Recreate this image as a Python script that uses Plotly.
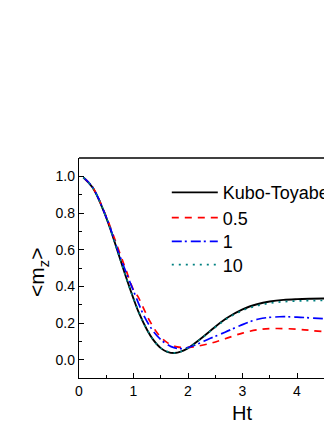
import plotly.graph_objects as go

# Kubo-Toyabe (black solid)
kt_t = [0.08, 0.25, 0.5, 0.75, 0.87, 1.0, 1.1, 1.25, 1.36, 1.5, 1.62, 1.75, 1.88, 2.0, 2.12, 2.25, 2.4, 2.5, 2.68, 2.75, 3.0, 3.13, 3.25, 3.5, 3.75, 4.0, 4.25, 4.65]
kt_v = [0.994, 0.939, 0.775, 0.553, 0.444, 0.333, 0.255, 0.162, 0.109, 0.063, 0.043, 0.036, 0.045, 0.063, 0.088, 0.118, 0.155, 0.180, 0.220, 0.234, 0.274, 0.290, 0.301, 0.317, 0.326, 0.330, 0.332, 0.334]

# 0.5 (red dashed)
r_t = [0.08, 0.25, 0.5, 0.75, 0.87, 1.0, 1.08, 1.2, 1.3, 1.45, 1.62, 1.8, 1.95, 2.1, 2.4, 2.68, 3.0, 3.3, 3.6, 4.0, 4.3, 4.65]
r_v = [0.994, 0.940, 0.780, 0.580, 0.483, 0.380, 0.345, 0.270, 0.210, 0.140, 0.093, 0.070, 0.066, 0.070, 0.088, 0.114, 0.145, 0.164, 0.170, 0.166, 0.158, 0.148]

# 1 (blue dash-dot)
b_t = [0.08, 0.25, 0.5, 0.75, 1.0, 1.2, 1.36, 1.5, 1.69, 1.85, 2.0, 2.2, 2.4, 2.68, 2.95, 3.3, 3.68, 4.0, 4.3, 4.65]
b_v = [0.994, 0.940, 0.777, 0.565, 0.375, 0.235, 0.156, 0.110, 0.071, 0.060, 0.066, 0.088, 0.115, 0.150, 0.185, 0.222, 0.234, 0.232, 0.227, 0.220]

# 10 (teal dotted)
c_t = [0.08, 0.25, 0.5, 0.75, 1.0, 1.25, 1.5, 1.75, 2.0, 2.25, 2.5, 2.75, 3.0, 3.25, 3.5, 3.75, 4.0, 4.25, 4.65]
c_v = [0.994, 0.939, 0.775, 0.553, 0.333, 0.162, 0.063, 0.037, 0.063, 0.117, 0.177, 0.230, 0.268, 0.293, 0.308, 0.316, 0.320, 0.322, 0.323]

names = ["Kubo-Toyabe", "0.5", "1", "10"]
x_ticks = [0, 1, 2, 3, 4]
y_ticks = [0.0, 0.2, 0.4, 0.6, 0.8, 1.0]

FONT = "Liberation Sans, Arial, sans-serif"

fig = go.Figure()
fig.add_trace(go.Scatter(x=kt_t, y=kt_v, mode="lines", name=names[0], legend="legend",
                         line=dict(color="black", width=1.9, shape="spline")))
fig.add_trace(go.Scatter(x=r_t, y=r_v, mode="lines", name=names[1], legend="legend2",
                         line=dict(color="#FF0000", width=1.7, dash="7px,6px", shape="spline")))
fig.add_trace(go.Scatter(x=b_t, y=b_v, mode="lines", name=names[2], legend="legend3",
                         line=dict(color="#0000FF", width=1.7, dash="10px,3px,2px,4px", shape="spline")))
fig.add_trace(go.Scatter(x=c_t, y=c_v, mode="lines", name=names[3], legend="legend4",
                         line=dict(color="#008080", width=1.7, dash="2px,5px", shape="spline")))

leg_x = 0.347
leg_common = dict(x=leg_x, xanchor="left", yanchor="middle", bgcolor="rgba(0,0,0,0)",
                  font=dict(size=18, family=FONT), itemwidth=46)

fig.update_layout(
    width=324, height=422,
    margin=dict(l=71, r=0, t=150, b=52, autoexpand=False),
    paper_bgcolor="white", plot_bgcolor="white",
    font=dict(family=FONT, color="black"),
    showlegend=True,
    legend=dict(y=0.8423, **leg_common),
    legend2=dict(y=0.7273, **leg_common),
    legend3=dict(y=0.6195, **leg_common),
    legend4=dict(y=0.5136, **leg_common),
    xaxis=dict(range=[0, 4.642], showgrid=False, zeroline=False, showline=True, linecolor="black", linewidth=1.3,
               ticks="inside", ticklen=5, tickwidth=1.2, tickcolor="black",
               tickvals=x_ticks, ticktext=[str(v) for v in x_ticks], tickfont=dict(size=14),
               minor=dict(ticks="inside", ticklen=3, tickwidth=1, tickcolor="black", dtick=0.5)),
    yaxis=dict(range=[-0.1, 1.1], showgrid=False, zeroline=False, showline=True, linecolor="black", linewidth=1.3,
               ticks="inside", ticklen=5, tickwidth=1.2, tickcolor="black",
               tickvals=y_ticks, ticktext=["%.1f" % v for v in y_ticks], tickfont=dict(size=14),
               minor=dict(ticks="inside", ticklen=3, tickwidth=1, tickcolor="black", dtick=0.1)),
    shapes=[dict(type="line", xref="paper", yref="paper", x0=0, x1=1, y0=1, y1=1, line=dict(color="black", width=1.3))],
    annotations=[
        dict(text="Ht", xref="paper", yref="paper", x=0.644, y=-0.157, showarrow=False, font=dict(size=20), xanchor="center", yanchor="middle"),
        dict(text="&lt;m<sub>z</sub>&gt;", xref="paper", yref="paper", x=-0.16, y=0.48, showarrow=False, textangle=-90,
             font=dict(size=21), xanchor="center", yanchor="middle"),
    ],
)

fig.write_html("out.html")
